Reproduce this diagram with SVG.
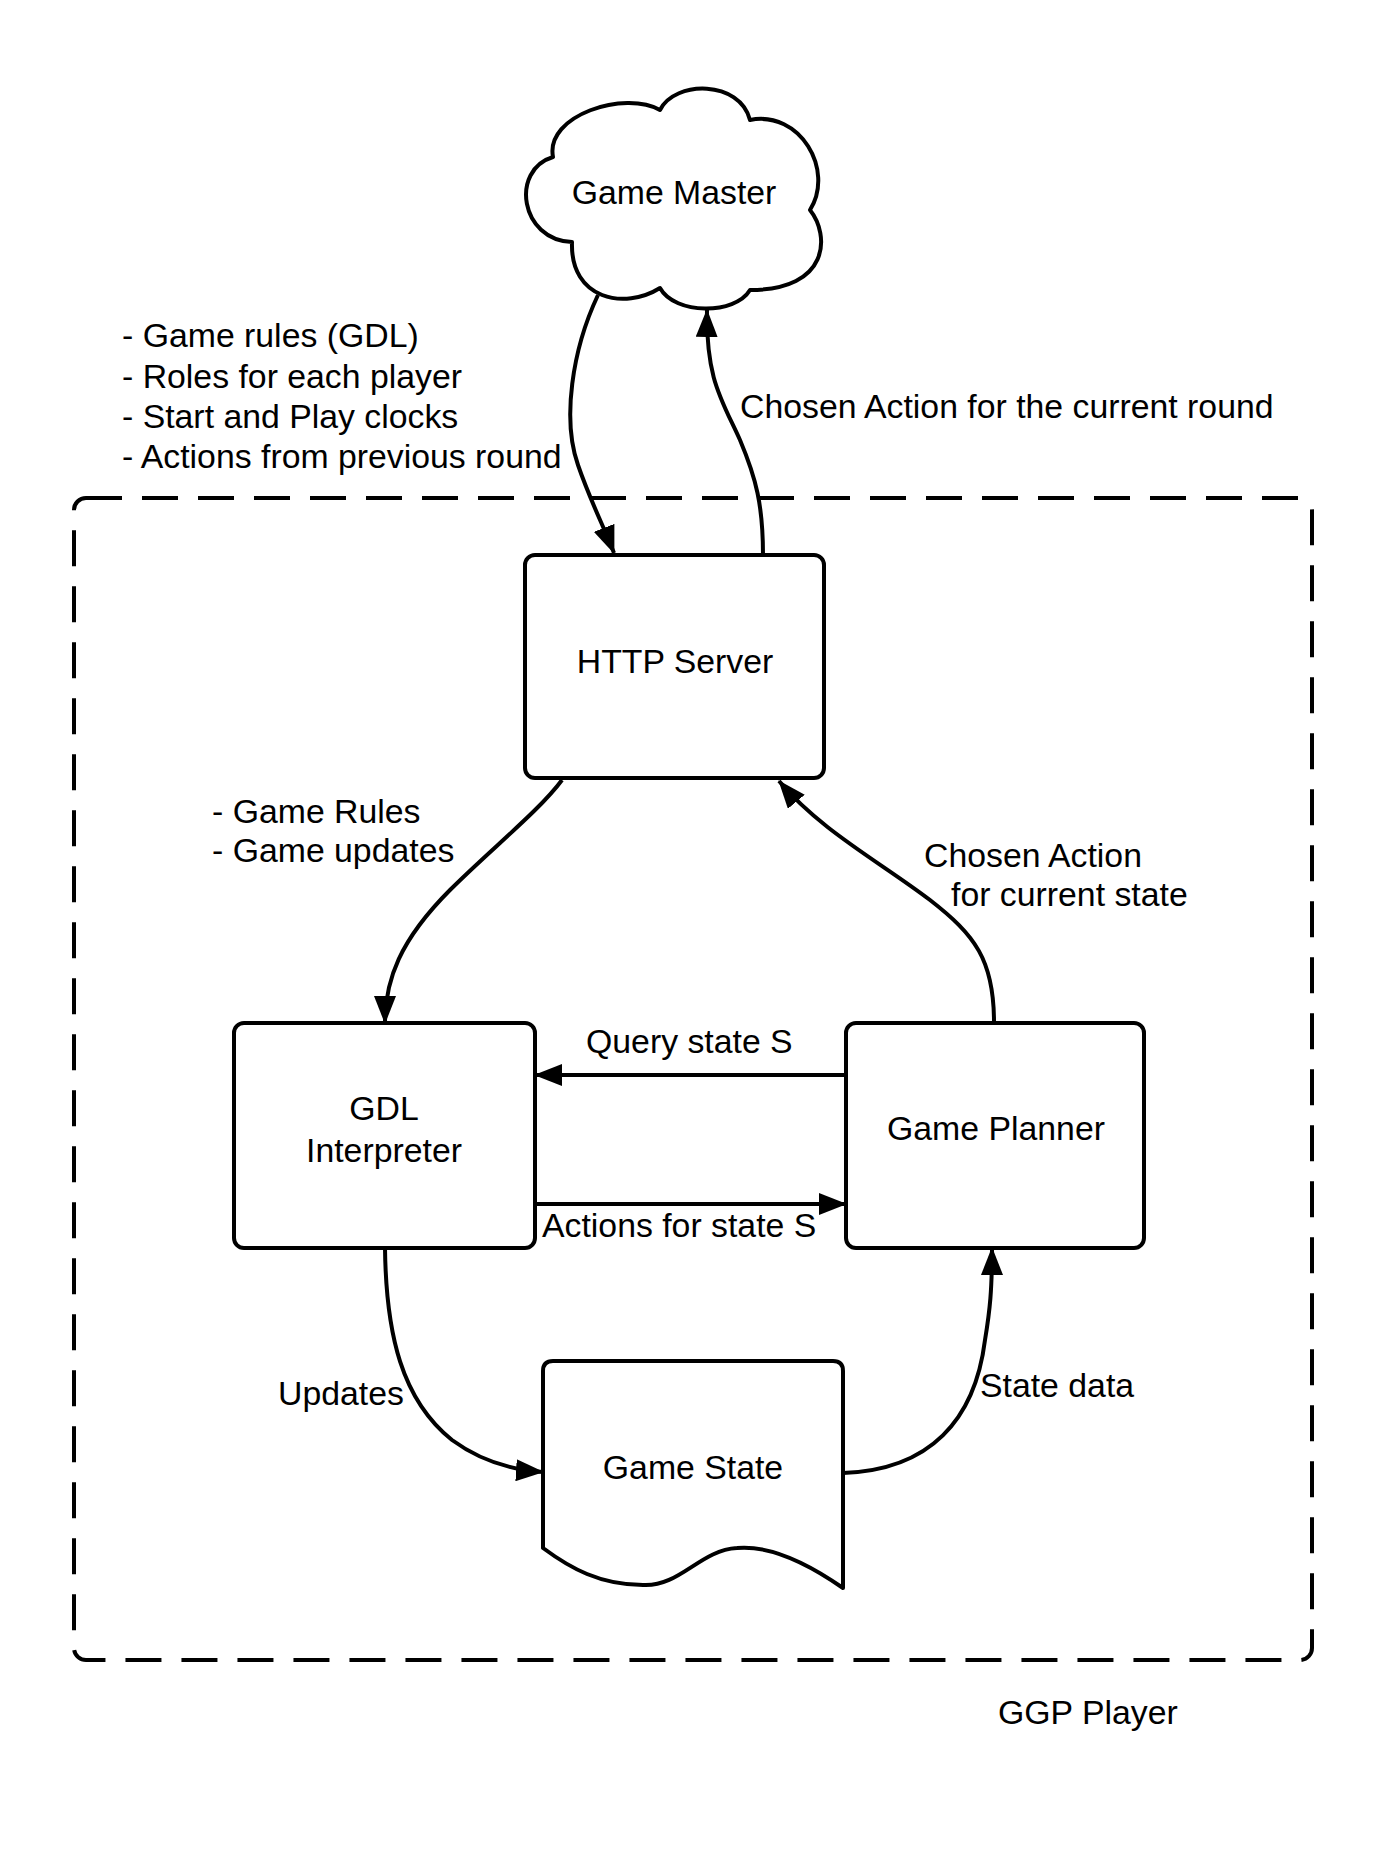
<svg xmlns="http://www.w3.org/2000/svg" width="1388" height="1849" viewBox="0 0 1388 1849">
<defs>
<style>
text{font-family:"Liberation Sans",Arial,sans-serif;font-size:33.8px;fill:#000}
.c{text-anchor:middle}
.shape{fill:#fff;stroke:#000;stroke-width:4;stroke-linejoin:round}
.edge{fill:none;stroke:#000;stroke-width:4}
.arr{marker-end:url(#ah)}
</style>
<marker id="ah" markerUnits="userSpaceOnUse" viewBox="0 0 28 22" markerWidth="28" markerHeight="22" refX="27" refY="11" orient="auto">
<path d="M0,0 L28,11 L0,22 z" fill="#000"/>
</marker>
</defs>
<rect width="1388" height="1849" fill="#fff"/>

<g id="ggp-player">
<rect x="74" y="498" width="1238" height="1162" rx="12" fill="none" stroke="#000" stroke-width="4" stroke-dasharray="36 20"/>
<text x="998" y="1724">GGP Player</text>
</g>

<g id="connectors">
<path class="edge arr" d="M598,295 C572,350 562,420 578,465 C590,500 603,525 614,553"/>
<path class="edge arr" d="M763,555 C763,505 756,478 740,440 C722,400 706,380 707,310"/>
<path class="edge arr" d="M562,780 C540,810 490,850 450,890 C400,940 385,980 385,1023"/>
<path class="edge arr" d="M994,1022 C994,960 975,935 930,900 C880,862 820,830 779,781"/>
<path class="edge arr" d="M846,1075 L535,1075"/>
<path class="edge arr" d="M535,1204 L846,1204"/>
<path class="edge arr" d="M385,1248 C386,1335 402,1400 452,1440 C482,1462 512,1470 543,1472"/>
<path class="edge arr" d="M843,1473 C930,1470 975,1420 985,1340 C990,1310 992,1290 992,1248"/>
<g id="edge-labels">
<text x="122" y="347">- Game rules (GDL)</text>
<text x="122" y="388">- Roles for each player</text>
<text x="122" y="428">- Start and Play clocks</text>
<text x="122" y="468">- Actions from previous round</text>
<text x="740" y="418">Chosen Action for the current round</text>
<text x="212" y="823">- Game Rules</text>
<text x="212" y="862">- Game updates</text>
<text x="924" y="867">Chosen Action</text>
<text x="951" y="906">for current state</text>
<text x="586" y="1053">Query state S</text>
<text x="542" y="1237">Actions for state S</text>
<text x="278" y="1405">Updates</text>
<text x="980" y="1397">State data</text>
</g>
</g>

<g id="game-master">
<path class="shape" d="M553,157 C545,115 625,90 660,110 C675,80 740,80 750,120 C800,110 835,170 810,210 C830,235 830,290 750,290 C735,315 675,315 660,288 C625,310 570,300 572,242 C520,240 510,170 553,157 Z"/>
<text class="c" x="674" y="204">Game Master</text>
</g>

<g id="http-server">
<rect class="shape" x="525" y="555" width="299" height="223" rx="10"/>
<text class="c" x="675" y="673">HTTP Server</text>
</g>

<g id="gdl-interpreter">
<rect class="shape" x="234" y="1023" width="301" height="225" rx="10"/>
<text class="c" x="384" y="1120">GDL</text>
<text class="c" x="384" y="1162">Interpreter</text>
</g>

<g id="game-planner">
<rect class="shape" x="846" y="1023" width="298" height="225" rx="10"/>
<text class="c" x="996" y="1140">Game Planner</text>
</g>

<g id="game-state">
<path class="shape" d="M543,1548 L543,1371 Q543,1361 553,1361 L833,1361 Q843,1361 843,1371 L843,1588 C810,1565 770,1545 737,1548 C700,1550 680,1587 643,1585 C600,1585 570,1568 543,1548 Z"/>
<text class="c" x="693" y="1479">Game State</text>
</g>
</svg>
